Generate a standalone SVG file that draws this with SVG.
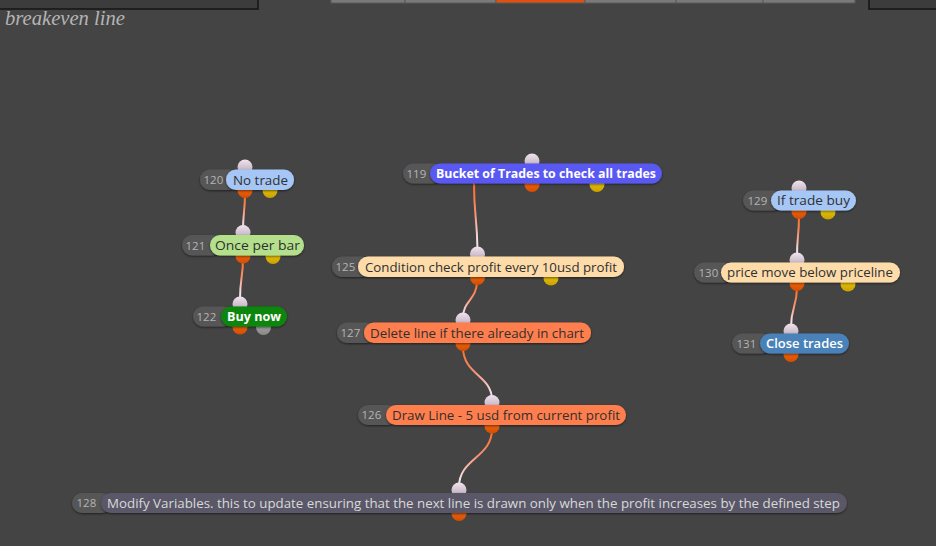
<svg xmlns="http://www.w3.org/2000/svg" width="936" height="546" viewBox="0 0 936 546">
<defs>
<linearGradient id="gIn" x1="0" y1="0" x2="0" y2="1"><stop offset="0" stop-color="#f0e4ee"/><stop offset="1" stop-color="#b4a4b4"/></linearGradient>
<linearGradient id="gOut" x1="0" y1="0" x2="0" y2="1"><stop offset="0" stop-color="#ff7418"/><stop offset="1" stop-color="#d44c00"/></linearGradient>
<linearGradient id="gYel" x1="0" y1="0" x2="0" y2="1"><stop offset="0" stop-color="#f8d810"/><stop offset="1" stop-color="#c8a000"/></linearGradient>
<linearGradient id="gGry" x1="0" y1="0" x2="0" y2="1"><stop offset="0" stop-color="#b0b0b0"/><stop offset="1" stop-color="#888888"/></linearGradient>
<linearGradient id="gLink" x1="0" y1="0" x2="0" y2="1"><stop offset="0" stop-color="#ff6a1a"/><stop offset="0.45" stop-color="#f89070"/><stop offset="0.85" stop-color="#f4e0e8"/><stop offset="1" stop-color="#f4e0e8"/></linearGradient>
<filter id="sh" x="-10%" y="-40%" width="120%" height="180%"><feDropShadow dx="0" dy="1" stdDeviation="1.3" flood-color="#000" flood-opacity="0.55"/></filter>
</defs>
<style>
.num{fill:#565656}
.numt{font-family:"Open Sans","Noto Sans",sans-serif;font-size:11.5px;fill:#b4b4b4}
.lbl{font-family:"Open Sans","Noto Sans",sans-serif;font-size:13px;fill:#303030}
.b{font-weight:700;fill:#ffffff}
.in{fill:url(#gIn)}
.out{fill:url(#gOut)}
.yel{fill:url(#gYel)}
.gry{fill:url(#gGry)}
.link{fill:none;stroke:url(#gLink);stroke-width:2}
</style>
<rect width="936" height="546" fill="#444444"/>
<!-- top bar -->
<rect x="-1" y="-1" width="259" height="10" fill="#3c3c3c" stroke="#151515" stroke-width="1.5"/>
<rect x="869" y="-1" width="70" height="10" fill="#3c3c3c" stroke="#151515" stroke-width="1.5"/>
<g stroke="#5a5a5a" stroke-width="1">
<rect x="331" y="-1" width="74" height="4" fill="#7a7a7a"/>
<rect x="405" y="-1" width="91" height="4" fill="#7a7a7a"/>
<rect x="496" y="-1" width="89" height="4" fill="#e0500f"/>
<rect x="585" y="-1" width="91" height="4" fill="#7a7a7a"/>
<rect x="676" y="-1" width="87" height="4" fill="#7a7a7a"/>
<rect x="763" y="-1" width="92" height="4" fill="#7a7a7a"/>
</g>
<text x="5" y="25" font-family="'Liberation Serif',serif" font-style="italic" font-size="20" fill="#b4b4b4" textLength="120" lengthAdjust="spacingAndGlyphs">breakeven line</text>

<g id="connectors">
<path class="link" d="M245 193 C245 212 243 212 243 231"/>
<path class="link" d="M243 258 C243 278 240 278 240 299"/>
<path class="link" d="M474 183 C474 216 477 216 477.5 250"/>
<path class="link" d="M477 281 C477 300 463 300 463 318"/>
<path class="link" d="M463 347 C463 375 492 375 492 400"/>
<path class="link" d="M492 429 C492 458 459 458 459 487"/>
<path class="link" d="M799 215 C799 236 797 236 797 256"/>
<path class="link" d="M797 287 C797 307 791 307 791 327"/>
</g>

<g id="n120">
<circle class="in" cx="245" cy="167" r="7.5"/><circle class="out" cx="245" cy="190.5" r="7.5"/><circle class="yel" cx="270" cy="190.5" r="7.5"/>
<rect class="num" x="200" y="169.5" width="40" height="20.5" rx="10" filter="url(#sh)"/>
<text class="numt" x="203.5" y="184">120</text>
<rect x="226" y="169.5" width="68" height="20.5" rx="10" fill="#a6c6f6" filter="url(#sh)"/>
<text class="lbl" x="233" y="184.5" textLength="55" lengthAdjust="spacingAndGlyphs">No trade</text>
</g>
<g id="n121">
<circle class="in" cx="243" cy="232.5" r="7.5"/><circle class="out" cx="243" cy="256" r="7.5"/><circle class="yel" cx="273" cy="256.5" r="7.5"/>
<rect class="num" x="182" y="235" width="40" height="20.5" rx="10" filter="url(#sh)"/>
<text class="numt" x="185.5" y="249.5">121</text>
<rect x="210" y="235" width="94" height="20.5" rx="10" fill="#b4e08c" filter="url(#sh)"/>
<text class="lbl" x="215" y="250" textLength="85" lengthAdjust="spacingAndGlyphs">Once per bar</text>
</g>
<g id="n122">
<circle class="in" cx="240" cy="304" r="7.5"/><circle class="out" cx="240" cy="327" r="7.5"/><circle class="gry" cx="263.5" cy="327.5" r="7.5"/>
<rect class="num" x="193" y="306.5" width="40" height="20" rx="10" filter="url(#sh)"/>
<text class="numt" x="196.5" y="320.5">122</text>
<rect x="221" y="306.5" width="66" height="20" rx="10" fill="#0c860c" filter="url(#sh)"/>
<text class="lbl b" x="227" y="321" textLength="54" lengthAdjust="spacingAndGlyphs">Buy now</text>
</g>
<g id="n119">
<circle class="in" cx="532" cy="161" r="7.5"/><circle class="out" cx="532" cy="184.5" r="7.5"/><circle class="yel" cx="597" cy="184.5" r="7.5"/>
<rect class="num" x="403" y="163.5" width="40" height="20" rx="10" filter="url(#sh)"/>
<text class="numt" x="406.5" y="177.5">119</text>
<rect x="430" y="163.5" width="232" height="20" rx="10" fill="#5a58f2" filter="url(#sh)"/>
<text class="lbl b" x="436" y="178" textLength="220" lengthAdjust="spacingAndGlyphs">Bucket of Trades to check all trades</text>
</g>
<g id="n125">
<circle class="in" cx="477.5" cy="254" r="7.5"/><circle class="out" cx="477.5" cy="277.5" r="7.5"/><circle class="yel" cx="551" cy="278" r="7.5"/>
<rect class="num" x="332" y="256.5" width="40" height="20.5" rx="10" filter="url(#sh)"/>
<text class="numt" x="335.5" y="271">125</text>
<rect x="358" y="256.5" width="266" height="20.5" rx="10" fill="#fddcaa" filter="url(#sh)"/>
<text class="lbl" x="365" y="271.5" textLength="252" lengthAdjust="spacingAndGlyphs">Condition check profit every 10usd profit</text>
</g>
<g id="n127">
<circle class="in" cx="463" cy="320" r="7.5"/><circle class="out" cx="463" cy="343.5" r="7.5"/>
<rect class="num" x="337" y="322.5" width="40" height="20.5" rx="10" filter="url(#sh)"/>
<text class="numt" x="340.5" y="337">127</text>
<rect x="364" y="322.5" width="227" height="20.5" rx="10" fill="#ff7e4e" filter="url(#sh)"/>
<text class="lbl" x="370" y="337.5" textLength="214" lengthAdjust="spacingAndGlyphs">Delete line if there already in chart</text>
</g>
<g id="n126">
<circle class="in" cx="492" cy="402.5" r="7.5"/><circle class="out" cx="492" cy="426" r="7.5"/>
<rect class="num" x="358" y="405" width="40" height="20" rx="10" filter="url(#sh)"/>
<text class="numt" x="361.5" y="419">126</text>
<rect x="386" y="405" width="240" height="20" rx="10" fill="#ff7e4e" filter="url(#sh)"/>
<text class="lbl" x="392" y="419.5" textLength="228" lengthAdjust="spacingAndGlyphs">Draw Line - 5 usd from current profit</text>
</g>
<g id="n128">
<circle class="in" cx="459" cy="490" r="7.5"/><circle class="out" cx="459" cy="513.5" r="7.5"/>
<rect class="num" x="72" y="493" width="40" height="20" rx="10" filter="url(#sh)"/>
<text class="numt" x="76.5" y="507">128</text>
<rect x="101" y="493" width="746" height="20" rx="10" fill="#5a5868" filter="url(#sh)"/>
<text class="lbl" x="107" y="507.5" style="fill:#d8d8d8" textLength="733" lengthAdjust="spacingAndGlyphs">Modify Variables. this to update ensuring that the next line is drawn only when the profit increases by the defined step</text>
</g>
<g id="n129">
<circle class="in" cx="799" cy="188" r="7.5"/><circle class="out" cx="799" cy="211.5" r="7.5"/><circle class="yel" cx="828" cy="212" r="7.5"/>
<rect class="num" x="743" y="190.5" width="40" height="20" rx="10" filter="url(#sh)"/>
<text class="numt" x="747.5" y="204.5">129</text>
<rect x="771" y="190.5" width="85" height="20" rx="10" fill="#a6c6f6" filter="url(#sh)"/>
<text class="lbl" x="777" y="205" textLength="73" lengthAdjust="spacingAndGlyphs">If trade buy</text>
</g>
<g id="n130">
<circle class="in" cx="797" cy="260" r="7.5"/><circle class="out" cx="797" cy="283.5" r="7.5"/><circle class="yel" cx="848" cy="284" r="7.5"/>
<rect class="num" x="694" y="262.5" width="40" height="20" rx="10" filter="url(#sh)"/>
<text class="numt" x="698.5" y="276.5">130</text>
<rect x="721" y="262.5" width="179" height="20" rx="10" fill="#fddcaa" filter="url(#sh)"/>
<text class="lbl" x="727" y="277" textLength="166" lengthAdjust="spacingAndGlyphs">price move below priceline</text>
</g>
<g id="n131">
<circle class="in" cx="791" cy="331" r="7.5"/><circle class="out" cx="791" cy="354.5" r="7.5"/>
<rect class="num" x="732" y="333.5" width="40" height="20" rx="10" filter="url(#sh)"/>
<text class="numt" x="736.5" y="347.5">131</text>
<rect x="760" y="333.5" width="89" height="20" rx="10" fill="#4a82b8" filter="url(#sh)"/>
<text class="lbl" x="766" y="348" style="font-weight:600;fill:#ffffff" textLength="77" lengthAdjust="spacingAndGlyphs">Close trades</text>
</g>
</svg>
